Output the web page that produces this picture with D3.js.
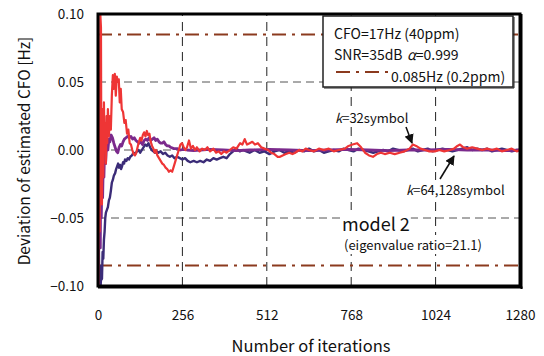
<!DOCTYPE html>
<html>
<head>
<meta charset="utf-8">
<script src="https://cdn.jsdelivr.net/npm/d3@7"></script>
<style>
  body { margin: 0; background: #fff; }
  text { font-family: "Noto Sans CJK JP", "Liberation Sans", sans-serif; }
</style>
</head>
<body>
<div id="container"></div>
<script>
/* 1. DATA */
const xTicks = [0, 256, 512, 768, 1024, 1280];
const yTicks = [-0.10, -0.05, 0.00, 0.05, 0.10];
const limitLines = [0.085, -0.085];

// k=32 symbol (red) : [iteration, deviation Hz]
const k32 = [
  [0,0],[1,-0.1],[3,0.02],[5,-0.06],[7,0.1],[9,0.09],[10,0],[12,-0.04],[14,0.03],[16,-0.02],
  [18,0.035],[20,0],[22,0.02],[24,-0.01],[26,0.025],[28,0.005],[30,0.03],[33,0.01],[36,0.025],
  [39,0.015],[42,0.04],[45,0.055],[48,0.045],[51,0.056],[54,0.04],[57,0.054],[60,0.05],[63,0.052],
  [66,0.035],[69,0.045],[72,0.03],[76,0.028],[80,0.02],[84,0.022],[88,0.012],[92,0.015],[96,0.005],
  [100,0.004],[104,0],[108,-0.003],[112,-0.004],[116,-0.002],[120,0.002],[124,0.006],[128,0.009],
  [132,0.007],[136,0.011],[140,0.013],[144,0.01],[148,0.014],[152,0.011],[156,0.012],[160,0.006],
  [164,0.003],[168,0.001],[172,-0.002],[176,0],[180,-0.004],[185,-0.006],[190,-0.008],[195,-0.01],
  [200,-0.011],[205,-0.013],[210,-0.014],[215,-0.016],[220,-0.015],[225,-0.016],[230,-0.012],
  [235,-0.008],[240,-0.004],[245,0],[250,0.004],[255,0.005],[260,0.002],[265,0],[270,0.002],
  [276,0.007],[282,0.001],[288,0.003],[294,0],[300,0.002],[308,-0.001],[316,0.001],[324,0],
  [332,0.002],[340,-0.001],[350,0.001],[358,-0.002],[366,-0.001],[374,-0.003],[382,-0.001],
  [390,-0.002],[400,0],[410,0.002],[420,0.001],[431,0.005],[438,0.004],[445,0.008],[452,0.004],
  [460,0.005],[468,0.006],[476,0.004],[485,0.005],[495,0.002],[505,0.001],[516,0],[525,-0.002],
  [535,-0.003],[545,-0.005],[552,-0.005],[560,-0.004],[570,-0.003],[580,-0.002],[590,-0.003],
  [598,-0.002],[610,0],[620,-0.001],[630,0.001],[640,0],[655,-0.001],[670,0.001],[685,0],
  [700,0.001],[715,-0.001],[730,0],[749,0.001],[760,0.003],[772,0.004],[786,0.005],[798,0.002],
  [810,-0.002],[822,-0.004],[834,-0.005],[846,-0.003],[858,-0.002],[870,-0.003],[885,-0.002],
  [900,-0.003],[915,-0.002],[930,-0.001],[945,0.001],[955,0.004],[965,0.003],[978,0.001],
  [992,0],[1005,-0.001],[1022,-0.001],[1035,0],[1050,-0.001],[1068,0],[1080,0.001],[1090,0.003],
  [1098,0.004],[1108,0.002],[1120,0.001],[1135,0.002],[1150,0.001],[1165,0],[1180,0.001],
  [1195,0],[1210,0.001],[1225,-0.001],[1240,0],[1255,0.001],[1270,-0.001],[1280,0]
];

// k=64 symbol (purple)
const k64 = [
  [0,0],[1,0.052],[2,0.02],[3,-0.02],[4,0.03],[5,-0.05],[6,-0.01],[7,-0.072],[8,-0.03],[10,-0.05],
  [12,-0.02],[14,-0.035],[16,-0.01],[18,-0.02],[20,0],[23,-0.01],[26,0.004],[30,0],[33,0.008],
  [36,0.006],[40,0.011],[44,0.009],[48,0.005],[52,0.002],[56,-0.001],[60,-0.002],[64,0.002],
  [68,0.004],[72,0.003],[76,0.006],[80,0.008],[85,0.009],[90,0.01],[95,0.009],[100,0.01],
  [105,0.008],[110,0.009],[115,0.007],[120,0.006],[125,0.005],[130,0.006],[135,0.004],[140,0.007],
  [145,0.008],[150,0.007],[155,0.009],[160,0.007],[165,0.008],[170,0.009],[175,0.007],[180,0.008],
  [185,0.006],[190,0.005],[195,0.005],[200,0.006],[205,0.004],[210,0.003],[215,0.003],[220,0.002],
  [230,0.001],[240,0.001],[250,0],[260,0.0005],[270,0],[290,-0.0005],[310,0],[340,0.0005],
  [380,0],[420,-0.0005],[460,0],[520,0.0005],[580,0],[640,-0.0005],[700,0],[760,0.0005],
  [820,0],[880,-0.0005],[940,0],[1000,0],[1060,0.0005],[1120,0],[1180,0],[1240,-0.0005],[1280,0]
];

// k=128 symbol (indigo)
const k128 = [
  [0,-0.03],[2,-0.06],[4,-0.098],[6,-0.085],[8,-0.1],[10,-0.09],[12,-0.095],[14,-0.075],[16,-0.08],
  [18,-0.066],[20,-0.06],[22,-0.05],[24,-0.046],[27,-0.044],[30,-0.042],[33,-0.037],[36,-0.035],
  [39,-0.03],[42,-0.024],[45,-0.022],[48,-0.019],[52,-0.017],[55,-0.014],[58,-0.012],[61,-0.01],
  [64,-0.013],[67,-0.011],[70,-0.014],[73,-0.012],[76,-0.009],[79,-0.01],[82,-0.007],[86,-0.008],
  [90,-0.006],[94,-0.007],[98,-0.005],[103,-0.004],[108,-0.002],[113,-0.003],[118,-0.001],
  [123,0],[128,-0.002],[133,0],[138,0.002],[143,0.004],[148,0.003],[153,0.005],[158,0.002],
  [163,0],[168,-0.001],[173,-0.002],[178,-0.001],[183,-0.002],[190,-0.001],[197,-0.003],
  [204,-0.002],[211,-0.004],[218,-0.005],[225,-0.004],[232,-0.006],[240,-0.005],[248,-0.006],
  [256,-0.007],[264,-0.006],[272,-0.008],[280,-0.009],[290,-0.008],[300,-0.009],[310,-0.008],
  [320,-0.009],[330,-0.007],[340,-0.008],[350,-0.006],[360,-0.007],[370,-0.006],[380,-0.005],
  [390,-0.006],[400,-0.003],[410,-0.001],[420,0.001],[430,-0.001],[440,0],[450,-0.001],
  [460,-0.002],[475,0],[490,-0.002],[505,-0.001],[520,-0.003],[535,-0.001],[550,0],[565,-0.002],
  [580,-0.001],[595,-0.002],[610,0],[625,-0.001],[640,0.001],[655,-0.001],[670,0],[685,-0.002],
  [700,-0.001],[715,0],[730,-0.001],[745,0.001],[760,0],[775,-0.001],[790,0.001],[805,0],
  [820,-0.001],[835,-0.002],[850,-0.001],[865,0],[880,-0.001],[895,0.001],[910,0],[925,-0.001],
  [940,0],[955,0.001],[970,-0.001],[985,0],[1000,0.001],[1015,-0.001],[1030,0],[1045,0.001],
  [1060,0],[1075,-0.001],[1090,0],[1105,0.001],[1120,0.002],[1135,0],[1150,0.001],[1165,0],
  [1180,0.001],[1195,-0.001],[1210,0],[1225,0.001],[1240,0],[1255,-0.001],[1270,0],[1280,0]
];

/* 2. LAYOUT */
const width = 544, height = 356;
const plot = {left: 98, right: 520, top: 14, bottom: 286};

const xScale = d3.scaleLinear().domain([0, 1280]).range([plot.left, plot.right]);
const yScale = d3.scaleLinear().domain([-0.1, 0.1]).range([plot.bottom, plot.top]);

const svg = d3.select("#container").append("svg")
  .attr("width", width).attr("height", height);

const defs = svg.append("defs");
defs.append("clipPath").attr("id", "clip")
  .append("rect")
  .attr("x", plot.left).attr("y", plot.top)
  .attr("width", plot.right - plot.left).attr("height", plot.bottom - plot.top);

// arrowhead
defs.append("marker")
  .attr("id", "arrow").attr("viewBox", "0 0 10 10")
  .attr("refX", 9).attr("refY", 5)
  .attr("markerWidth", 6).attr("markerHeight", 6)
  .attr("orient", "auto")
  .append("path").attr("d", "M0,0 L10,5 L0,10 z").attr("fill", "#111");

/* 3. GRID */
svg.selectAll(".hgrid")
  .data([-0.05, 0, 0.05])
  .join("line")
  .attr("x1", plot.left).attr("x2", plot.right)
  .attr("y1", d => yScale(d)).attr("y2", d => yScale(d))
  .attr("stroke", "#555").attr("stroke-width", 1)
  .attr("stroke-dasharray", "8,5");

svg.selectAll(".vgrid")
  .data(xTicks.slice(1, -1))
  .join("line")
  .attr("x1", d => xScale(d)).attr("x2", d => xScale(d))
  .attr("y1", plot.bottom).attr("y2", plot.top)
  .attr("stroke", "#222").attr("stroke-width", 1)
  .attr("stroke-dasharray", "9,6");

svg.selectAll(".limit")
  .data(limitLines)
  .join("line")
  .attr("x1", plot.left).attr("x2", plot.right)
  .attr("y1", d => yScale(d)).attr("y2", d => yScale(d))
  .attr("stroke", "#8b3a1e").attr("stroke-width", 2)
  .attr("stroke-dasharray", "14,6,3,6");

/* 4. SERIES */
const line = d3.line().x(d => xScale(d[0])).y(d => yScale(d[1]));
const series = [
  {data: k128, color: "#3b2c78", w: 2.4},
  {data: k64, color: "#7b2a8c", w: 2.8},
  {data: k32, color: "#ee3535", w: 2.2}
];
svg.append("g").attr("clip-path", "url(#clip)")
  .selectAll("path")
  .data(series)
  .join("path")
  .attr("d", d => line(d.data))
  .attr("fill", "none")
  .attr("stroke", d => d.color)
  .attr("stroke-width", d => d.w)
  .attr("stroke-linejoin", "round");

/* 5. FRAME */
svg.append("rect")
  .attr("x", plot.left).attr("y", plot.top)
  .attr("width", plot.right - plot.left).attr("height", plot.bottom - plot.top)
  .attr("fill", "none").attr("stroke", "#000").attr("stroke-width", 3);
svg.append("line") // heavier right / bottom edge
  .attr("x1", plot.right + 1.5).attr("x2", plot.right + 1.5)
  .attr("y1", plot.top).attr("y2", plot.bottom + 3)
  .attr("stroke", "#000").attr("stroke-width", 2);
svg.append("line")
  .attr("x1", plot.left).attr("x2", plot.right + 2.5)
  .attr("y1", plot.bottom + 1.5).attr("y2", plot.bottom + 1.5)
  .attr("stroke", "#000").attr("stroke-width", 2);

/* 6. AXES */
const xAxis = d3.axisBottom(xScale).tickValues(xTicks).tickSize(0).tickPadding(24)
  .tickFormat(d3.format("d"));
svg.append("g")
  .attr("transform", `translate(0,${plot.bottom})`)
  .call(xAxis)
  .call(g => g.select(".domain").remove())
  .selectAll("text").attr("font-size", 13.5).attr("fill", "#111")
  .style("font-family", "'Noto Sans CJK JP', sans-serif");

const yAxis = d3.axisLeft(yScale).tickValues(yTicks).tickSize(0).tickPadding(14)
  .tickFormat(d3.format(".2f"));
svg.append("g")
  .attr("transform", `translate(${plot.left},0)`)
  .call(yAxis)
  .call(g => g.select(".domain").remove())
  .selectAll("text").attr("font-size", 13.5).attr("fill", "#111")
  .style("font-family", "'Noto Sans CJK JP', sans-serif");

svg.append("text")
  .attr("x", 311).attr("y", 352)
  .attr("text-anchor", "middle").attr("font-size", 16.5).attr("fill", "#111")
  .text("Number of iterations");

svg.append("text")
  .attr("transform", "translate(30,151) rotate(-90)")
  .attr("text-anchor", "middle").attr("font-size", 15.5).attr("fill", "#111")
  .text("Deviation of estimated CFO [Hz]");

/* 7. LEGEND */
const lg = svg.append("g");
lg.append("rect")
  .attr("x", 323).attr("y", 16).attr("width", 190).attr("height", 71)
  .attr("fill", "#fff").attr("stroke", "#222").attr("stroke-width", 1.5);
lg.append("line")
  .attr("x1", 514).attr("x2", 514).attr("y1", 17).attr("y2", 88)
  .attr("stroke", "#222").attr("stroke-width", 1);
lg.append("line")
  .attr("x1", 324).attr("x2", 514).attr("y1", 88).attr("y2", 88)
  .attr("stroke", "#222").attr("stroke-width", 1);
lg.append("text").attr("x", 334).attr("y", 39).attr("font-size", 14).attr("fill", "#111")
  .text("CFO=17Hz (40ppm)");
lg.append("text").attr("x", 334).attr("y", 60).attr("font-size", 14).attr("fill", "#111")
  .text("SNR=35dB");
lg.append("text").attr("x", 407).attr("y", 60).attr("font-size", 14).attr("fill", "#111")
  .html("<tspan font-style='italic'>α</tspan>=0.999");
lg.append("line")
  .attr("x1", 336).attr("x2", 389).attr("y1", 72).attr("y2", 72)
  .attr("stroke", "#8b3a1e").attr("stroke-width", 2)
  .attr("stroke-dasharray", "14,6,3,6");
lg.append("text").attr("x", 391).attr("y", 82).attr("font-size", 14).attr("fill", "#111")
  .text("0.085Hz (0.2ppm)");

/* 8. ANNOTATIONS (white behind text, as in the original) */
function label(x, y, size, html) {
  const t = svg.append("text").attr("x", x).attr("y", y)
    .attr("font-size", size).attr("fill", "#111").html(html);
  const b = t.node().getBBox();
  svg.insert("rect", () => t.node())
    .attr("x", b.x - 1).attr("y", b.y).attr("width", b.width + 2).attr("height", b.height)
    .attr("fill", "#fff");
  return t;
}

label(335, 123, 13, "<tspan font-style='italic'>k</tspan>=32symbol");
svg.append("line")
  .attr("x1", 406).attr("y1", 127).attr("x2", 412).attr("y2", 143)
  .attr("stroke", "#111").attr("stroke-width", 1.6).attr("marker-end", "url(#arrow)");
label(406, 195, 13, "<tspan font-style='italic'>k</tspan>=64,128symbol");
svg.append("line")
  .attr("x1", 440).attr("y1", 179).attr("x2", 454).attr("y2", 156)
  .attr("stroke", "#111").attr("stroke-width", 1.6).attr("marker-end", "url(#arrow)");

label(342, 231, 18, "model 2");
label(344, 250, 13, "(eigenvalue ratio=21.1)");
</script>
</body>
</html>
